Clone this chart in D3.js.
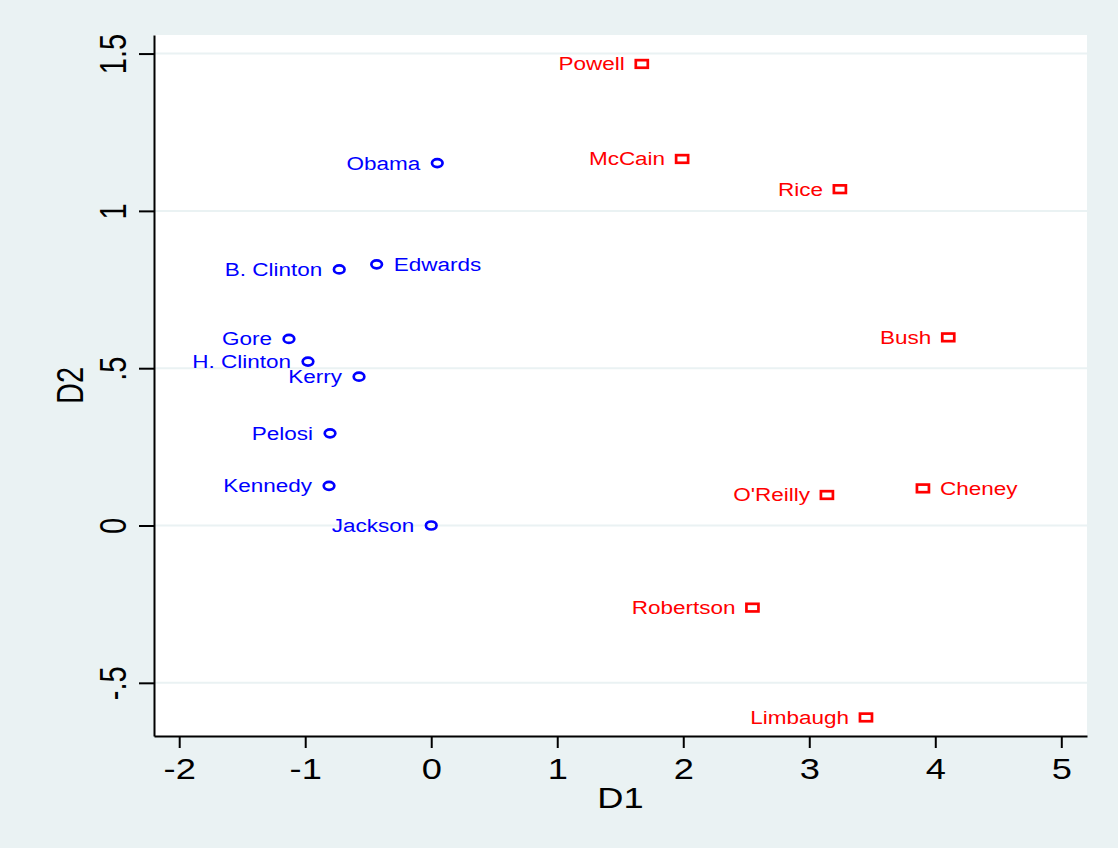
<!DOCTYPE html>
<html lang="en">
<head>
  <meta charset="UTF-8">
  <title>D1 vs D2</title>
  <style>
    body {
      margin: 0;
      background-color: #eaf2f3;
      font-family: 'Liberation Sans', Arial, sans-serif;
    }
    svg { display: block; }
    .grid line { stroke: #eaf2f3; stroke-width: 2px; }
    .axis path, .axis line { stroke: #000; stroke-width: 2px; }
    .axis text { font-size: 29px; fill: #000; font-family: 'Liberation Sans', Arial, sans-serif; }
    .label { font-size: 18px; }
  </style>
  <script src="https://d3js.org/d3.v7.min.js"></script>
</head>
<body>
<svg width="1118" height="848"></svg>
<script>
  // data
  const names = ['Powell', 'McCain', 'Rice', 'Bush', "O'Reilly", 'Cheney', 'Robertson', 'Limbaugh',
                 'Obama', 'B. Clinton', 'Edwards', 'Gore', 'H. Clinton', 'Kerry', 'Pelosi', 'Kennedy', 'Jackson'];
  const d1 = [1.671, 1.991, 3.243, 4.103, 3.140, 3.902, 2.549, 3.450,
              0.048, -0.730, -0.433, -1.129, -0.978, -0.573, -0.803, -0.811, 0.0];
  const d2 = [1.467, 1.165, 1.069, 0.598, 0.097, 0.118, -0.261, -0.610,
              1.152, 0.814, 0.830, 0.593, 0.521, 0.473, 0.293, 0.126, 0.0];
  const party = ['R', 'R', 'R', 'R', 'R', 'R', 'R', 'R',
                 'D', 'D', 'D', 'D', 'D', 'D', 'D', 'D', 'D'];
  const labelSide = ['left', 'left', 'left', 'left', 'left', 'right', 'left', 'left',
                     'left', 'left', 'right', 'left', 'left', 'left', 'left', 'left', 'left'];
  const xTicks = [-2, -1, 0, 1, 2, 3, 4, 5];
  const xTickLabels = ['-2', '-1', '0', '1', '2', '3', '4', '5'];
  const yTicks = [-0.5, 0, 0.5, 1, 1.5];
  const yTickLabels = ['-.5', '0', '.5', '1', '1.5'];

  const svg = d3.select("svg");
  const plotL = 154, plotR = 1087, plotT = 35, plotB = 736;
  const stretch = 1.25;

  const x = d3.scaleLinear().domain([-2.2, 5.204]).range([plotL, plotR]);
  const y = d3.scaleLinear().domain([-0.669, 1.559]).range([plotB, plotT]);

  svg.append("rect")
    .attr("x", plotL).attr("y", plotT)
    .attr("width", plotR - plotL).attr("height", plotB - plotT)
    .attr("fill", "#fff");

  svg.append("g").attr("class", "grid")
    .selectAll("line")
    .data(yTicks)
    .join("line")
    .attr("x1", plotL).attr("x2", plotR)
    .attr("y1", d => y(d)).attr("y2", d => y(d));

  const xAxis = svg.append("g")
    .attr("class", "axis")
    .attr("transform", `translate(0,${plotB})`)
    .call(d3.axisBottom(x).tickValues(xTicks).tickSize(12).tickSizeOuter(0).tickFormat((d, i) => xTickLabels[i]));
  xAxis.selectAll("text")
    .attr("y", 43).attr("dy", 0)
    .attr("transform", `scale(${stretch},1)`);

  const yAxis = svg.append("g")
    .attr("class", "axis")
    .attr("transform", `translate(${plotL},0)`)
    .call(d3.axisLeft(y).tickValues(yTicks).tickSize(15).tickSizeOuter(0).tickFormat((d, i) => yTickLabels[i]));
  yAxis.selectAll("text")
    .attr("x", 0).attr("dy", 0)
    .attr("text-anchor", "middle")
    .attr("transform", `translate(-28,0) scale(${stretch},1) rotate(-90)`);
  svg.selectAll(".axis path").attr("fill", "none");

  // axis titles
  svg.append("text")
    .attr("transform", `translate(${(plotL + plotR) / 2},808) scale(${stretch},1)`)
    .attr("text-anchor", "middle")
    .style("font-size", "29px")
    .text("D1");
  svg.append("text")
    .attr("transform", `translate(83,${(plotT + plotB) / 2}) scale(${stretch},1) rotate(-90)`)
    .attr("text-anchor", "middle")
    .style("font-size", "29px")
    .text("D2");

  const pts = names.map((n, i) => ({ name: n, x: d1[i], y: d2[i], party: party[i], side: labelSide[i] }));
  const color = p => p === 'R' ? '#ff0000' : '#0000ff';

  const marks = svg.append("g");
  marks.selectAll("ellipse")
    .data(pts.filter(d => d.party === 'D'))
    .join("ellipse")
    .attr("cx", d => x(d.x)).attr("cy", d => y(d.y))
    .attr("rx", 5.3).attr("ry", 4)
    .attr("fill", "none")
    .attr("stroke", d => color(d.party))
    .attr("stroke-width", 2.7);
  marks.selectAll("rect")
    .data(pts.filter(d => d.party === 'R'))
    .join("rect")
    .attr("x", d => x(d.x) - 6).attr("y", d => y(d.y) - 3.8)
    .attr("width", 12).attr("height", 7.6)
    .attr("fill", "none")
    .attr("stroke", d => color(d.party))
    .attr("stroke-width", 2.7);

  svg.append("g")
    .selectAll("text")
    .data(pts)
    .join("text")
    .attr("class", "label")
    .attr("transform", d => `translate(${x(d.x) + (d.side === 'left' ? -17 : 17)},${y(d.y)}) scale(${stretch},1)`)
    .attr("dy", "0.36em")
    .attr("text-anchor", d => d.side === 'left' ? 'end' : 'start')
    .attr("fill", d => color(d.party))
    .text(d => d.name);
</script>
</body>
</html>
